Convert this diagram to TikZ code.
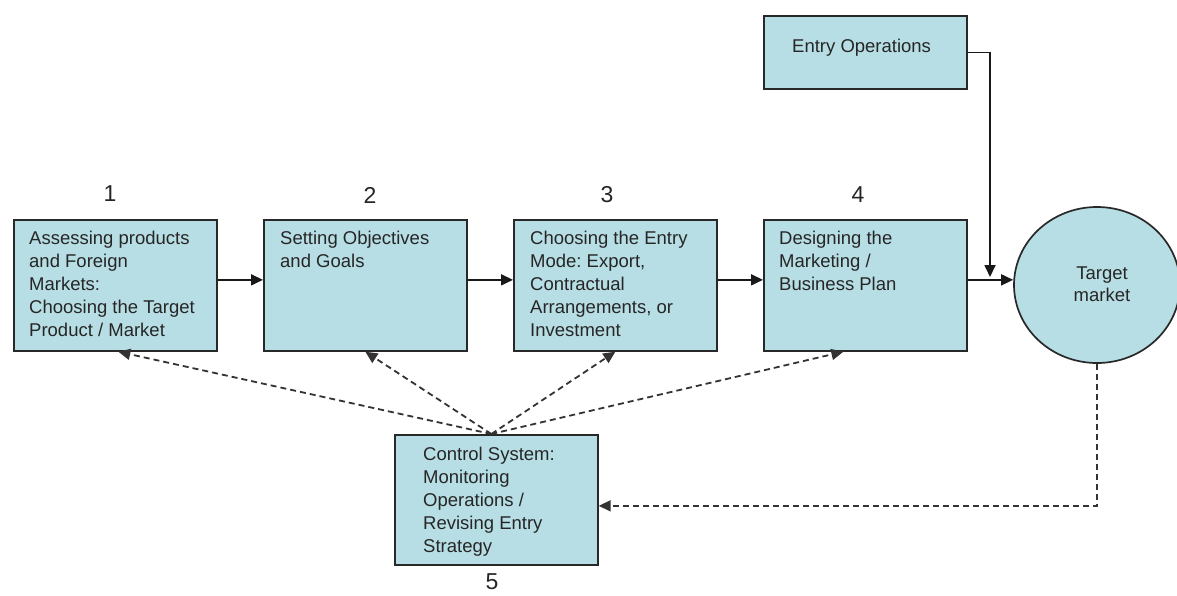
\documentclass[tikz,border=0pt]{standalone}
\usepackage{fontspec}
\setmainfont{Liberation Sans}
\usetikzlibrary{arrows.meta,shapes.geometric}

\definecolor{boxfill}{RGB}{183,222,228}
\definecolor{boxline}{RGB}{40,40,40}

\begin{document}
\frenchspacing
\begin{tikzpicture}[x=1pt,y=-1pt,
  stepbox/.style={draw=boxline,line width=1.7pt,fill=boxfill,rectangle,
    minimum width=203pt,minimum height=131pt,inner sep=0pt,anchor=north west},
  boxtext/.style={anchor=north west,inner sep=0pt,align=left,
    font=\fontsize{18.5}{23}\selectfont,text=black!85},
  numtext/.style={inner sep=0pt,font=\fontsize{23}{26}\selectfont,text=black!85},
  flow/.style={line width=1.7pt,draw=black!90,-{Triangle[length=12pt,width=11pt]}},
  feedback/.style={line width=1.8pt,draw=black!80,dash pattern=on 6pt off 4pt,
    -{Triangle[length=12pt,width=11pt]}}
]
\useasboundingbox (0,0) rectangle (1177,595);
\fill[white] (0,0) rectangle (1177,595);

% main stages
\node[stepbox] (b1) at (13,219) {};
\node[stepbox] (b2) at (263,219) {};
\node[stepbox] (b3) at (513,219) {};
\node[stepbox] (b4) at (763,219) {};
\node[stepbox,minimum height=130pt] (b5) at (394,434) {};
\node[stepbox,minimum height=73pt] (eo) at (763,15) {};
\node[ellipse,draw=boxline,line width=1.7pt,fill=boxfill,minimum width=166pt,
  minimum height=156pt,inner sep=0pt] (tm) at (1097,285) {};

% box texts
\node[boxtext] (t1) at (29,231) {Assessing products\\and Foreign\\Markets:\\Choosing the Target\\Product / Market};
\node[boxtext] (t2) at (280,231) {Setting Objectives\\and Goals};
\node[boxtext] (t3) at (530,231) {Choosing the Entry\\Mode: Export,\\Contractual\\Arrangements, or\\Investment};
\node[boxtext] (t4) at (779,231) {Designing the\\Marketing /\\Business Plan};
\node[boxtext] (t5) at (423,447) {Control System:\\Monitoring\\Operations /\\Revising Entry\\Strategy};
\node[boxtext] (teo) at (792,39) {Entry Operations};
\node[inner sep=0pt,align=center,font=\fontsize{18.5}{22}\selectfont,text=black!85] (ttm) at (1102,284) {Target\\market};

% stage numbers
\node[numtext] (n1) at (110,194) {1};
\node[numtext] (n2) at (370,195) {2};
\node[numtext] (n3) at (607,195) {3};
\node[numtext] (n4) at (858,195) {4};
\node[numtext] (n5) at (492,582) {5};

% forward flow
\draw[flow] ([yshift=5.5pt]b1.east) -- ([yshift=5.5pt]b2.west);
\draw[flow] ([yshift=5.5pt]b2.east) -- ([yshift=5.5pt]b3.west);
\draw[flow] ([yshift=5.5pt]b3.east) -- ([yshift=5.5pt]b4.west);
\draw[flow] ([yshift=5.5pt]b4.east) -- ([yshift=5.5pt]b4.east -| tm.west);
\coordinate (join) at (990,277);
\draw[flow] (eo.east) -| (join);

% control feedback
\coordinate (fb) at ([xshift=-5pt]b5.north);
\draw[feedback] (fb) -- ([xshift=3pt]b1.south);
\draw[feedback] (fb) -- (b2.south);
\draw[feedback] (fb) -- (b3.south);
\draw[feedback] (fb) -- ([xshift=-22pt]b4.south);
\draw[feedback] (tm.south) |- ([yshift=-6pt]b5.east);
\end{tikzpicture}
\end{document}
